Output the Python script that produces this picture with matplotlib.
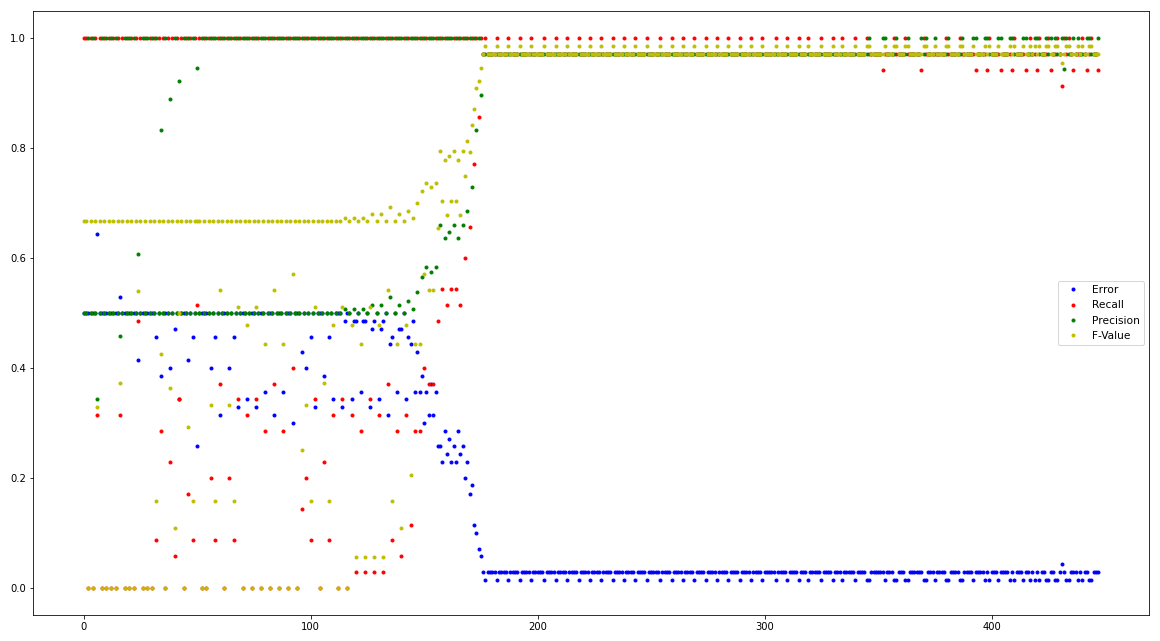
import numpy as np
import matplotlib
matplotlib.use('Agg')
import matplotlib.pyplot as plt

n_points = 448

# epochs 0..112: odd epochs (and epoch 0) predict everything positive
base_error, base_recall, base_precision, base_fvalue = 0.5, 1.0, 0.5, 0.667

# even epochs 2, 4, ..., 112
early_x = list(range(2, 113, 2))
early_error = [0.5, 0.5, 0.643, 0.5, 0.5, 0.5, 0.5, 0.529, 0.5, 0.5,
               0.5, 0.414, 0.5, 0.5, 0.5, 0.457, 0.386, 0.5, 0.4, 0.471,
               0.343, 0.5, 0.414, 0.457, 0.257, 0.5, 0.5, 0.4, 0.457, 0.314,
               0.5, 0.4, 0.457, 0.329, 0.5, 0.343, 0.5, 0.329, 0.5, 0.357,
               0.5, 0.314, 0.5, 0.357, 0.5, 0.3, 0.5, 0.429, 0.4, 0.457,
               0.329, 0.5, 0.386, 0.457, 0.343, 0.5]
early_recall = [0, 0, 0.314, 0, 0, 0, 0, 0.314, 0, 0,
                0, 0.486, 0, 0, 0, 0.086, 0.286, 0, 0.229, 0.057,
                0.343, 0, 0.171, 0.086, 0.514, 0, 0, 0.2, 0.086, 0.371,
                0, 0.2, 0.086, 0.343, 0, 0.314, 0, 0.343, 0, 0.286,
                0, 0.371, 0, 0.286, 0, 0.4, 0, 0.143, 0.2, 0.086,
                0.343, 0, 0.229, 0.086, 0.314, 0]
early_precision = [1, 1, 0.344, 1, 1, 1, 1, 0.458, 1, 1,
                   1, 0.607, 1, 1, 1, 1, 0.833, 1, 0.889, 1,
                   0.923, 1, 1, 1, 0.947, 1, 1, 1, 1, 1,
                   1, 1, 1, 1, 1, 1, 1, 1, 1, 1,
                   1, 1, 1, 1, 1, 1, 1, 1, 1, 1,
                   1, 1, 1, 1, 1, 1]
early_fvalue = [0, 0, 0.329, 0, 0, 0, 0, 0.373, 0, 0,
                0, 0.54, 0, 0, 0, 0.158, 0.425, 0, 0.364, 0.108,
                0.5, 0, 0.293, 0.158, 0.667, 0, 0, 0.333, 0.158, 0.542,
                0, 0.333, 0.158, 0.511, 0, 0.478, 0, 0.511, 0, 0.444,
                0, 0.542, 0, 0.444, 0, 0.571, 0, 0.25, 0.333, 0.158,
                0.511, 0, 0.372, 0.158, 0.478, 0]

# epochs 113..175
trans_x = list(range(113, 176))
trans_error = [0.5, 0.329, 0.486, 0.5, 0.5, 0.343, 0.486, 0.486, 0.5, 0.357,
               0.486, 0.486, 0.5, 0.329, 0.471, 0.486, 0.5, 0.343, 0.471, 0.486,
               0.5, 0.314, 0.443, 0.457, 0.5, 0.357, 0.471, 0.471, 0.5, 0.343,
               0.457, 0.443, 0.486, 0.357, 0.429, 0.357, 0.386, 0.3, 0.357, 0.314,
               0.371, 0.314, 0.357, 0.257, 0.257, 0.229, 0.286, 0.243, 0.271, 0.229,
               0.257, 0.229, 0.286, 0.243, 0.257, 0.2, 0.229, 0.171, 0.186, 0.114,
               0.1, 0.071, 0.057]
trans_recall = [1, 0.343, 1, 0, 1, 0.314, 1, 0.029, 1, 0.286,
                1, 0.029, 1, 0.343, 1, 0.029, 1, 0.314, 1, 0.029,
                1, 0.371, 1, 0.086, 1, 0.286, 1, 0.057, 1, 0.314,
                1, 0.114, 1, 0.286, 1, 0.286, 1, 0.4, 1, 0.371,
                1, 0.371, 1, 0.486, 1, 0.543, 1, 0.514, 1, 0.543,
                1, 0.543, 1, 0.514, 1, 0.6, 1, 0.657, 1, 0.771,
                1, 0.857, 1]
trans_precision = [0.5, 1, 0.507, 1, 0.5, 1, 0.507, 1, 0.5, 1,
                   0.507, 1, 0.5, 1, 0.515, 1, 0.5, 1, 0.515, 1,
                   0.5, 1, 0.53, 1, 0.5, 1, 0.515, 1, 0.5, 1,
                   0.522, 1, 0.507, 1, 0.538, 1, 0.565, 1, 0.583, 1,
                   0.574, 1, 0.583, 1, 0.66, 1, 0.636, 1, 0.648, 1,
                   0.66, 1, 0.636, 1, 0.66, 1, 0.686, 1, 0.729, 1,
                   0.833, 1, 0.897]
trans_fvalue = [0.667, 0.511, 0.673, 0, 0.667, 0.478, 0.673, 0.056, 0.667, 0.444,
                0.673, 0.056, 0.667, 0.511, 0.68, 0.056, 0.667, 0.478, 0.68, 0.056,
                0.667, 0.542, 0.693, 0.158, 0.667, 0.444, 0.68, 0.108, 0.667, 0.478,
                0.686, 0.205, 0.673, 0.444, 0.7, 0.444, 0.722, 0.571, 0.737, 0.542,
                0.729, 0.542, 0.737, 0.654, 0.795, 0.704, 0.778, 0.679, 0.786, 0.704,
                0.795, 0.704, 0.778, 0.679, 0.795, 0.75, 0.814, 0.793, 0.843, 0.871,
                0.909, 0.923, 0.946]

# epochs 176..447 sit on a few levels
# c: normal, d: all positives found, e/f: no false positives, g/h: epochs 431/432
late_error = {'c': 0.029, 'd': 0.014, 'e': 0.029, 'f': 0.014, 'g': 0.043, 'h': 0.029}
late_recall = {'c': 0.971, 'd': 1.0, 'e': 0.943, 'f': 0.971, 'g': 0.914, 'h': 1.0}
late_precision = {'c': 0.971, 'd': 0.971, 'e': 1.0, 'f': 1.0, 'g': 1.0, 'h': 0.945}
late_fvalue = {'c': 0.971, 'd': 0.986, 'e': 0.971, 'f': 0.986, 'g': 0.955, 'h': 0.972}
late_d_x = [177, 182, 187, 192, 197, 203, 208, 213, 218, 223, 228, 233, 238,
            243, 248, 254, 259, 264, 269, 274, 279, 284, 289, 294, 299, 305,
            310, 315, 319, 325, 330, 334, 340, 345, 357, 362, 370, 380, 386,
            399, 410, 417, 421, 425, 429, 434, 440, 444]
late_e_x = [352, 369, 393, 398, 404, 409, 415, 420, 426, 436, 442, 447]
late_f_x = [346, 353, 358, 363, 371, 375, 381, 387, 392, 397, 403, 408,
            414, 419, 424, 428, 433, 438, 443]
late_g_x = [431]
late_h_x = [432]

x = np.arange(n_points)
error = np.zeros(n_points)
recall = np.zeros(n_points)
precision = np.zeros(n_points)
fvalue = np.zeros(n_points)

error[:113] = base_error
recall[:113] = base_recall
precision[:113] = base_precision
fvalue[:113] = base_fvalue
error[early_x] = early_error
recall[early_x] = early_recall
precision[early_x] = early_precision
fvalue[early_x] = early_fvalue
error[trans_x] = trans_error
recall[trans_x] = trans_recall
precision[trans_x] = trans_precision
fvalue[trans_x] = trans_fvalue

state = {i: 'c' for i in range(176, n_points)}
for code, xs in [('d', late_d_x), ('e', late_e_x), ('f', late_f_x),
                 ('g', late_g_x), ('h', late_h_x)]:
    for i in xs:
        state[i] = code
for i, code in state.items():
    error[i] = late_error[code]
    recall[i] = late_recall[code]
    precision[i] = late_precision[code]
    fvalue[i] = late_fvalue[code]

fig = plt.figure(figsize=(1160 / 72, 641 / 72), dpi=72)
ax = fig.add_axes([33 / 1160, 26 / 641, 1116 / 1160, 604 / 641])
ax.plot(x, error, 'b.', label='Error')
ax.plot(x, recall, 'r.', label='Recall')
ax.plot(x, precision, 'g.', label='Precision')
ax.plot(x, fvalue, 'y.', label='F-Value')
ax.legend(loc='center right', prop={'size': 10.6})

fig.savefig('out.png', dpi=72)
